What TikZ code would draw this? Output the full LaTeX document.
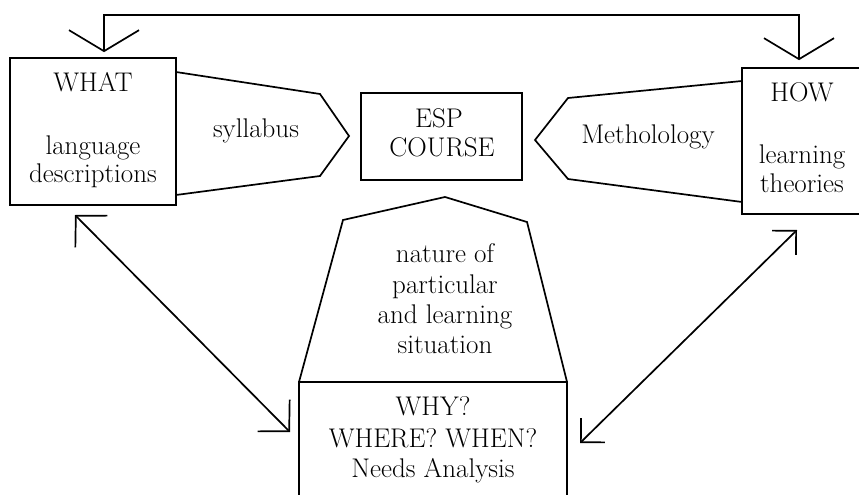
\documentclass[tikz,border=0pt]{standalone}
\usetikzlibrary{arrows.meta}
\begin{document}
\begin{tikzpicture}[x=1pt,y=-1pt,
  line width=1.7pt, line join=miter,
  txt/.style={font=\fontsize{27}{31}\selectfont, inner sep=0pt, anchor=base},
  boxst/.style={draw, rectangle, inner sep=0pt, anchor=center},
  bigV/.tip={Straight Barb[length=21pt,width=70pt,line cap=butt]},
  midV/.tip={Straight Barb[length=22pt,width=45pt,line cap=butt]},
  smallV/.tip={Straight Barb[length=17pt,width=34pt,line cap=butt]}]
\useasboundingbox[fill=white] (0,0) rectangle (859,495);
% boxes
\node[boxst, minimum width=166pt, minimum height=147pt] (what) at (93,131.5) {};
\node[boxst, minimum width=161pt, minimum height=87pt] (esp) at (441.5,136.5) {};
\node[boxst, minimum width=124pt, minimum height=146pt] (how) at (804,141) {};
\node[boxst, minimum width=268pt, minimum height=150pt] (needs) at (433,457) {};
% pointed shapes
\draw (176,72) -- (320,94) -- (349,136) -- (320,176) -- (176,195);
\draw (742,81) -- (568,98) -- (535,140) -- (568,179) -- (742,202);
\draw (299,382) -- (343,220) -- (445,197) -- (527,222) -- (567,382);
% texts
\node[txt] (twhat) at (93,92) {WHAT};
\node[txt] (tlang) at (93,154) {language};
\node[txt] (tdesc) at (93,182) {descriptions};
\node[txt] (tsyl) at (256,137) {syllabus};
\node[txt] (tesp) at (439,127) {ESP};
\node[txt] (tcourse) at (442,156) {COURSE};
\node[txt] (tmeth) at (648,143) {Metholology};
\node[txt] (thow) at (802,101) {HOW};
\node[txt] (tlearn) at (802,163) {learning};
\node[txt] (ttheo) at (802,192) {theories};
\node[txt] (tnat) at (445,262) {nature of};
\node[txt] (tpart) at (445,293) {particular};
\node[txt] (tandl) at (445,323) {and learning};
\node[txt] (tsit) at (445,353) {situation};
\node[txt] (twhy) at (433,415) {WHY?};
\node[txt] (twhere) at (433,447) {WHERE? WHEN?};
\node[txt] (tneeds) at (433,477) {Needs Analysis};
% connectors
\coordinate (topL) at (104,15);
\coordinate (topR) at (799,15);
\draw[bigV-bigV, shorten <=5pt, shorten >=7pt] (what.north -| topL) |- (topR) -- (how.north -| topR);
\coordinate (dlA) at (75,215);
\coordinate (dlB) at (290,432);
\draw[midV-midV] (dlA) -- (dlB);
\coordinate (drA) at (797,230);
\coordinate (drB) at (580,443);
\draw[smallV-smallV] (drA) -- (drB);
\end{tikzpicture}
\end{document}
